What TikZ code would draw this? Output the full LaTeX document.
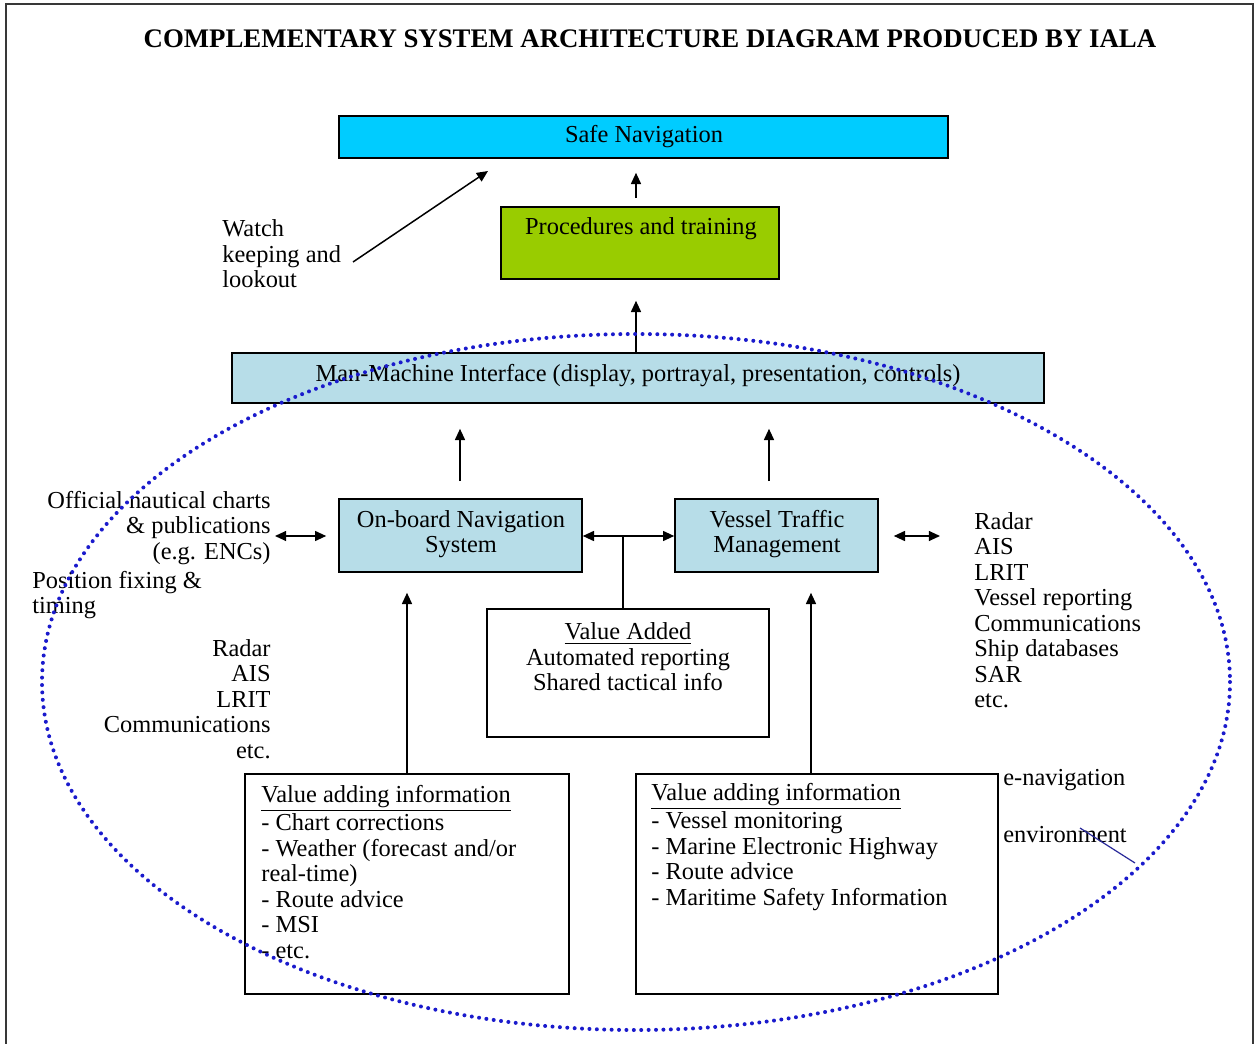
\documentclass[tikz,border=0pt]{standalone}
\usepackage{fontspec}
\setmainfont{Liberation Serif}
\usetikzlibrary{arrows.meta,fit}
\definecolor{safecyan}{HTML}{00CCFF}
\definecolor{procgreen}{HTML}{99CC00}
\definecolor{paleblue}{HTML}{B7DDE8}
\definecolor{dotblue}{HTML}{1A1ACC}
\definecolor{framegrey}{HTML}{383838}
\definecolor{markblue}{HTML}{2A2A9A}
\begin{document}
\begin{tikzpicture}[x=0.5pt,y=-0.5pt,
  box/.style={draw=black, line width=0.8pt, inner sep=0pt},
  txt/.style={font=\fontsize{12.2}{12.75}\selectfont, inner sep=0pt},
  arr/.style={line width=0.75pt, -{Triangle[length=5.6pt,width=5pt]}},
  darr/.style={line width=0.75pt, {Triangle[length=5.6pt,width=5pt]}-{Triangle[length=5.6pt,width=5pt]}},
  uline/.style={},
]
\useasboundingbox (0,0) rectangle (1255,1044);
% page frame
\draw[framegrey, line width=1pt] (6,1044) -- (6,4) -- (1253,4) -- (1253,1044);

% title
\node[font=\bfseries\fontsize{13.4}{14}\selectfont, inner sep=0pt] (title) at (650,39)
  {COMPLEMENTARY SYSTEM ARCHITECTURE DIAGRAM PRODUCED BY IALA};

% boxes
\node[box, fill=safecyan, fit={(339,116)(948,158)}] (safe) {};
\node[box, fill=procgreen, fit={(501,207)(779,279)}] (proc) {};
\node[box, fill=paleblue, fit={(232,353)(1044,403)}] (mmi) {};
\node[box, fill=paleblue, fit={(339,499)(582,572)}] (ons) {};
\node[box, fill=paleblue, fit={(675,499)(878,572)}] (vtm) {};
\node[box, fill=white, fit={(487,609)(769,737)}] (va) {};
\node[box, fill=white, fit={(245,774)(569,994)}] (vleft) {};
\node[box, fill=white, fit={(636,774)(998,994)}] (vright) {};

% box texts
\node[txt] (safetxt) at (644,137) {Safe Navigation};
\node[txt] (proctxt) at (641,229) {Procedures and training};
\node[txt] (mmitxt) at (638,376) {Man-Machine Interface (display, portrayal, presentation, controls)};
\node[txt, align=center] (onstxt) at (461,534) {On-board Navigation\\System};
\node[txt, align=center] (vtmtxt) at (777,534) {Vessel Traffic\\Management};
\node[txt, align=center] (vatxt) at (628,657) {\underline{Value Added}\\Automated reporting\\Shared tactical info};
\node[txt, align=left, anchor=west] (vlefttxt) at (261,872)
  {\underline{Value adding information}\\- Chart corrections\\- Weather (forecast and/or\\real-time)\\- Route advice\\- MSI\\- etc.};
\node[txt, align=left, anchor=west] (vrighttxt) at (651,847)
  {\underline{Value adding information}\\- Vessel monitoring\\- Marine Electronic Highway\\- Route advice\\- Maritime Safety Information};

% free texts
\node[txt, align=left, anchor=west] (watch) at (222,254) {Watch\\keeping and\\lookout};
\node[txt, align=right, anchor=east] (charts) at (271,528) {Official nautical charts\\\& publications\\(e.g. ENCs)};
\node[txt, align=left, anchor=west] (posfix) at (32,595) {Position fixing \&\\timing};
\node[txt, align=right, anchor=east] (llist) at (271,699) {Radar\\AIS\\LRIT\\Communications\\etc.};
\node[txt, align=left, anchor=west] (rlist) at (974,610) {Radar\\AIS\\LRIT\\Vessel reporting\\Communications\\Ship databases\\SAR\\etc.};
\node[txt, anchor=west] (enav) at (1003,780) {e-navigation};
\node[txt, anchor=west] (envir) at (1003,835) {environment};

% connectors
\coordinate (wkstart) at (353,262);
\coordinate (wkend) at (488,171);
\draw[arr] (wkstart) -- (wkend);
\draw[arr, shorten <=4pt, shorten >=7pt] (proc.north -| 636,0) -- (safe.south -| 636,0);
\draw[arr, shorten >=10.5pt] (mmi.north -| 636,0) -- (proc.south -| 636,0);
\draw[arr, shorten <=8.5pt, shorten >=12.5pt] (ons.north -| 460,0) -- (mmi.south -| 460,0);
\draw[arr, shorten <=8.5pt, shorten >=12.5pt] (vtm.north -| 769,0) -- (mmi.south -| 769,0);
\draw[darr, shorten <=2pt, shorten >=6pt] (charts.east |- 0,536) -- (ons.west |- 0,536);
\draw[darr] (ons.east |- 0,536) -- (vtm.west |- 0,536);
\draw[line width=0.75pt] (va.north -| 623,0) -- (ons.east -| 623,536);
\draw[darr, shorten <=7.5pt, shorten >=17pt] (vtm.east |- 0,536) -- (rlist.west |- 0,536);
\draw[arr, shorten >=10pt] (vleft.north -| 407,0) -- (ons.south -| 407,0);
\draw[arr, shorten >=10pt] (vright.north -| 811,0) -- (vtm.south -| 811,0);

% stray pen mark
\draw[markblue, line width=0.6pt] (1080,828) -- (1135,863);

% e-navigation environment boundary
\draw[dotblue, line width=2pt, line cap=round, dash pattern=on 0pt off 3.7pt]
  (636,682) ellipse [x radius=594, y radius=348];
\end{tikzpicture}
\end{document}
